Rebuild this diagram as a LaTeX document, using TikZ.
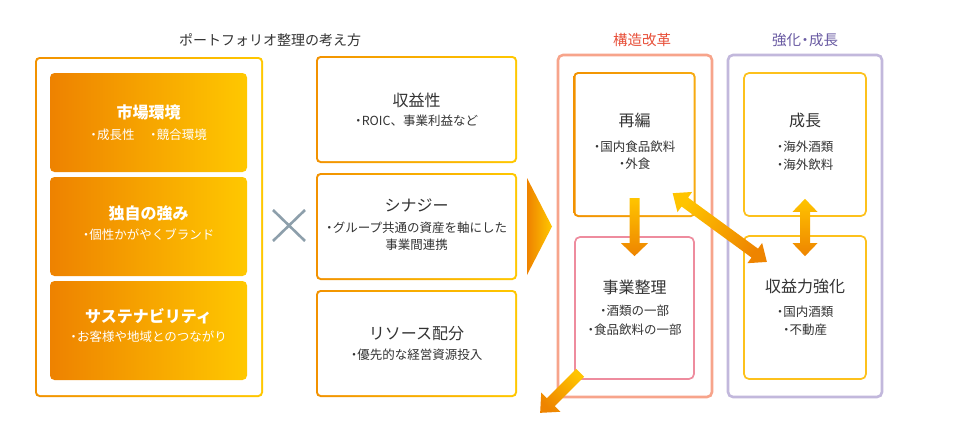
\documentclass[tikz,border=0pt]{standalone}
\usepackage{fontspec}
\setmainfont{Noto Sans CJK JP}
\usetikzlibrary{calc}
\definecolor{orA}{HTML}{EE8200}
\definecolor{yeA}{HTML}{FFC800}
\definecolor{orB}{HTML}{F29200}
\definecolor{yeB}{HTML}{FFC61A}
\definecolor{orC}{HTML}{F7AA10}
\definecolor{arrtail}{HTML}{FFC400}
\definecolor{arrtip}{HTML}{EE8400}
\definecolor{txt}{HTML}{333333}
\definecolor{redt}{HTML}{E8503A}
\definecolor{redb}{HTML}{F7A48B}
\definecolor{purt}{HTML}{6A5BA3}
\definecolor{purb}{HTML}{C2B8DC}
\definecolor{pinkb}{HTML}{EE8C9E}
\definecolor{ylb}{HTML}{FDC11C}
\definecolor{xcol}{HTML}{8D9FAB}

\newcommand\bul{\makebox[0.55em][c]{・}}

\newcommand\arrowsetup[2]{%
  \pgfpointanchor{#1}{center}\pgfgetlastxy{\fax}{\fay}%
  \pgfpointanchor{#2}{center}\pgfgetlastxy{\fbx}{\fby}%
  \pgfmathsetmacro\farang{atan2((\fby)-(\fay),(\fbx)-(\fax))}%
  \pgfmathsetmacro\farlen{veclen((\fbx)-(\fax),(\fby)-(\fay))}%
  \pgfmathsetmacro\farshade{\farang-90}}
% single fat arrow: from, to, half shaft, half head, head length
\newcommand\onearrow[5]{%
  \arrowsetup{#1}{#2}%
  \begin{scope}[shift={(#1)},rotate=\farang]
    \shade[top color=arrtip,bottom color=arrtail,shading angle=\farshade]
      (0pt,#3pt) -- (\farlen pt-#5pt,#3pt) -- (\farlen pt-#5pt,#4pt) -- (\farlen pt,0pt)
      -- (\farlen pt-#5pt,-#4pt) -- (\farlen pt-#5pt,-#3pt) -- (0pt,-#3pt) -- cycle;
  \end{scope}}
% double fat arrow
\newcommand\twoarrow[5]{%
  \arrowsetup{#1}{#2}%
  \begin{scope}[shift={(#1)},rotate=\farang]
    \shade[top color=arrtip,bottom color=arrtail,shading angle=\farshade]
      (0pt,0pt) -- (#5pt,#4pt) -- (#5pt,#3pt) -- (\farlen pt-#5pt,#3pt) -- (\farlen pt-#5pt,#4pt)
      -- (\farlen pt,0pt) -- (\farlen pt-#5pt,-#4pt) -- (\farlen pt-#5pt,-#3pt)
      -- (#5pt,-#3pt) -- (#5pt,-#4pt) -- cycle;
  \end{scope}}

\begin{document}
\begin{tikzpicture}[x=1pt,y=-1pt,
  gbox/.style 2 args={rounded corners=4.5pt, inner sep=0pt, left color=#1, right color=#2,
    path picture={\fill[white,rounded corners=3pt]
      ([shift={(2pt,2pt)}]path picture bounding box.south west) rectangle
      ([shift={(-2pt,-2pt)}]path picture bounding box.north east);}},
  fbox/.style={rounded corners=4.5pt, inner sep=0pt, left color=orA, right color=yeA},
  grp/.style={draw=#1, line width=2.6pt, rounded corners=5pt, inner sep=0pt},
  lbox/.style={draw=#1, line width=1.7pt, rounded corners=5pt, inner sep=0pt, fill=white},
  tt/.style={text=txt, font=\fontsize{16}{19}\selectfont, inner sep=0pt},
  st/.style={text=txt, font=\fontsize{12.5}{18}\selectfont, inner sep=0pt, align=center},
  wt/.style={text=white, font=\fontsize{16}{19}\selectfont\bfseries, inner sep=0pt},
  ws/.style={text=white, font=\fontsize{12.5}{17}\selectfont, inner sep=0pt},
  gt/.style={text=#1, font=\fontsize{14.5}{17}\selectfont, inner sep=0pt}
]
\useasboundingbox (0,0) rectangle (970,431);
\fill[white] (0,0) rectangle (970,431);

% main title
\node[text=txt, font=\fontsize{14}{17}\selectfont, inner sep=0pt] (T) at (270,40) {ポートフォリオ整理の考え方};

% left column
\node[gbox={orB}{yeA}, minimum width=228pt, minimum height=340pt] (L) at (149,227) {};
\node[fbox, minimum width=197pt, minimum height=99pt] (L1) at (148.5,122.5) {};
\node[fbox, minimum width=197pt, minimum height=99pt] (L2) at (148.5,226.5) {};
\node[fbox, minimum width=197pt, minimum height=99pt] (L3) at (148.5,330.5) {};
\node[wt] (L1t) at (148.5,112) {市場環境};
\node[ws] (L1s) at (148.5,135) {\bul 成長性　 \bul 競合環境};
\node[wt] (L2t) at (148.5,213) {独自の強み};
\node[ws] (L2s) at (148.5,235) {\bul 個性かがやくブランド};
\node[wt] (L3t) at (148.5,316) {サステナビリティ};
\node[ws] (L3s) at (148.5,337) {\bul お客様や地域とのつながり};

% cross
\draw[xcol, line width=2.6pt] (273,210) -- (305,241) (305,210) -- (273,241);

% middle column
\node[gbox={orB}{yeA}, minimum width=201pt, minimum height=107pt] (M1) at (416.5,109.5) {};
\node[gbox={orB}{yeA}, minimum width=201pt, minimum height=107pt] (M2) at (416.5,226.5) {};
\node[gbox={orB}{yeA}, minimum width=201pt, minimum height=107pt] (M3) at (416.5,343.5) {};
\node[tt] (M1t) at (416.5,100) {収益性};
\node[st] (M1s) at (416.5,121) {\bul ROIC、事業利益など};
\node[tt] (M2t) at (416.5,205) {シナジー};
\node[st, font=\fontsize{12.5}{17}\selectfont] (M2s) at (416.5,236.5) {\bul グループ共通の資産を軸にした\\事業間連携};
\node[tt] (M3t) at (416.5,334) {リソース配分};
\node[st] (M3s) at (416.5,355) {\bul 優先的な経営資源投入};

% big triangle
\shade[left color=orA, right color=yeA] (527,178) -- (552,226.5) -- (527,275) -- cycle;

% structural reform group
\node[gt=redt] (Rt) at (642,40) {構造改革};
\node[grp=redb, minimum width=154pt, minimum height=342pt] (R) at (635,226) {};
\node[gbox={orB}{orC}, minimum width=122pt, minimum height=145pt] (RA) at (634.5,144.5) {};
\node[lbox=pinkb, minimum width=119pt, minimum height=142pt] (RB) at (634.5,308) {};
\node[tt] (RAt) at (634.5,120) {再編};
\node[st, font=\fontsize{12.5}{17}\selectfont] (RAs) at (634.5,155.5) {\bul 国内食品飲料\\\bul 外食};
\node[tt] (RBt) at (634.5,287) {事業整理};
\node[st, font=\fontsize{12.5}{19}\selectfont] (RBs) at (634.5,320.5) {\bul 酒類の一部\\\bul 食品飲料の一部};

% strengthen / growth group
\node[gt=purt] (Pt) at (805,40) {強化\bul 成長};
\node[grp=purb, minimum width=154pt, minimum height=342pt] (P) at (805,226) {};
\node[lbox=ylb, minimum width=122pt, minimum height=143pt] (PA) at (805,144.5) {};
\node[lbox=ylb, minimum width=122pt, minimum height=143pt] (PB) at (805,307.5) {};
\node[tt] (PAt) at (805,120) {成長};
\node[st] (PAs) at (805,156) {\bul 海外酒類\\\bul 海外飲料};
\node[tt] (PBt) at (805,286) {収益力強化};
\node[st] (PBs) at (805,321) {\bul 国内酒類\\\bul 不動産};

% arrow end points
\coordinate (va1) at ([yshift=19pt]RA.south);
\coordinate (va2) at ([yshift=-20pt]RB.north);
\coordinate (vb1) at ([yshift=18pt]PA.south);
\coordinate (vb2) at ([yshift=-21pt]PB.north);
\coordinate (da1) at ([shift={(-23pt,24pt)}]RA.south east);
\coordinate (da2) at ([shift={(24pt,-27pt)}]PB.north west);
\coordinate (ba1) at ([shift={(6pt,7pt)}]RB.south west);
\coordinate (ba2) at ([shift={(-34pt,-33pt)}]RB.south west);

% arrows
\onearrow{va1}{va2}{5}{13.5}{13}
\twoarrow{vb1}{vb2}{5}{12.5}{13}
\twoarrow{da1}{da2}{5.5}{12.5}{15}
\onearrow{ba1}{ba2}{5.5}{13.5}{15}
\end{tikzpicture}
\end{document}
